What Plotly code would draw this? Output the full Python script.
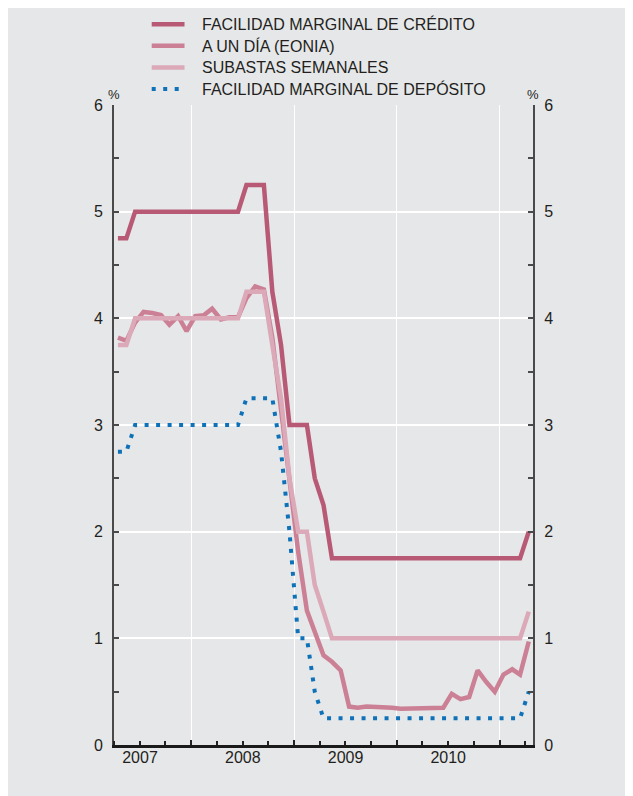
import pandas as pd
import plotly.graph_objects as go

# Monthly data, April 2007 - April 2011 (mid-month points)
months = pd.date_range("2007-04-01", "2011-04-01", freq="MS") + pd.Timedelta(days=14)

credito = [4.75, 4.75, 5.0, 5.0, 5.0, 5.0, 5.0, 5.0, 5.0,
           5.0, 5.0, 5.0, 5.0, 5.0, 5.0, 5.25, 5.25, 5.25, 4.25, 3.75, 3.0,
           3.0, 3.0, 2.5, 2.25, 1.75, 1.75, 1.75, 1.75, 1.75, 1.75, 1.75, 1.75,
           1.75, 1.75, 1.75, 1.75, 1.75, 1.75, 1.75, 1.75, 1.75, 1.75, 1.75, 1.75,
           1.75, 1.75, 1.75, 2.0]

eonia = [3.82, 3.79, 3.96, 4.06, 4.05, 4.03, 3.94, 4.02, 3.88,
         4.02, 4.03, 4.09, 3.99, 4.01, 4.01, 4.19, 4.30, 4.27, 3.82, 3.15, 2.49,
         1.81, 1.26, 1.06, 0.84, 0.78, 0.70, 0.36, 0.35, 0.36, 0.36, 0.36, 0.35,
         0.34, 0.34, 0.35, 0.35, 0.34, 0.35, 0.48, 0.43, 0.45, 0.70, 0.59, 0.50,
         0.66, 0.71, 0.66, 0.97]

subastas = [3.75, 3.75, 4.0, 4.0, 4.0, 4.0, 4.0, 4.0, 4.0,
            4.0, 4.0, 4.0, 4.0, 4.0, 4.0, 4.25, 4.25, 4.25, 3.75, 3.25, 2.5,
            2.0, 2.0, 1.5, 1.25, 1.0, 1.0, 1.0, 1.0, 1.0, 1.0, 1.0, 1.0,
            1.0, 1.0, 1.0, 1.0, 1.0, 1.0, 1.0, 1.0, 1.0, 1.0, 1.0, 1.0,
            1.0, 1.0, 1.0, 1.25]

deposito = [2.75, 2.75, 3.0, 3.0, 3.0, 3.0, 3.0, 3.0, 3.0,
            3.0, 3.0, 3.0, 3.0, 3.0, 3.0, 3.25, 3.25, 3.25, 3.25, 2.75, 2.0,
            1.0, 1.0, 0.5, 0.25, 0.25, 0.25, 0.25, 0.25, 0.25, 0.25, 0.25, 0.25,
            0.25, 0.25, 0.25, 0.25, 0.25, 0.25, 0.25, 0.25, 0.25, 0.25, 0.25, 0.25,
            0.25, 0.25, 0.25, 0.5]

names = ["FACILIDAD MARGINAL DE CRÉDITO", "A UN DÍA (EONIA)",
         "SUBASTAS SEMANALES", "FACILIDAD MARGINAL DE DEPÓSITO"]
series = [credito, eonia, subastas, deposito]
colors = ["#b85a75", "#cc8096", "#dba9b7", "#0f72b8"]
widths = [4.5, 4.5, 4.5, 4]
dashes = ["solid", "solid", "solid", "4px,7.5px"]

BG = "#e6e7e9"
FONT = "Liberation Sans, Arial, sans-serif"
TXT = "#231f20"

fig = go.Figure()
for i in range(4):
    # deposit line on the right-hand axis (same scale) so it is drawn on top
    fig.add_trace(go.Scatter(x=months, y=series[i], name=names[i], mode="lines",
                             yaxis="y2" if i == 3 else "y",
                             line=dict(color=colors[i], width=widths[i], dash=dashes[i])))

# hand-made legend so that the row spacing matches
shapes = []
annotations = []
for i in range(4):
    yy = 1.1261 - i * 0.0337
    shapes.append(dict(type="line", xref="paper", yref="paper", x0=0.09, x1=0.1683,
                       y0=yy, y1=yy, line=dict(color=colors[i], width=widths[i], dash=dashes[i])))
    annotations.append(dict(text=names[i], xref="paper", yref="paper", x=0.2045, y=yy,
                            xanchor="left", yanchor="middle", showarrow=False,
                            font=dict(size=16, color=TXT)))

annotations += [
    dict(text="%", xref="paper", yref="paper", x=0, y=1, xanchor="center", yanchor="bottom",
         showarrow=False, yshift=1, font=dict(size=13, color=TXT)),
    dict(text="%", xref="paper", yref="paper", x=1, y=1, xanchor="center", yanchor="bottom",
         showarrow=False, yshift=1, font=dict(size=13, color=TXT)),
]

yax = dict(range=[0, 6], dtick=1, showline=True, linecolor="#4a4a4a", linewidth=2,
           ticks="inside", ticklen=5, tickcolor="#4a4a4a", tickwidth=1.5,
           minor=dict(dtick=0.5, ticks="inside", ticklen=5, tickcolor="#4a4a4a", showgrid=False),
           tickfont=dict(size=16, color=TXT), ticklabelstandoff=6, zeroline=False,
           fixedrange=True)

fig.update_layout(
    width=633, height=796,
    margin=dict(l=106, r=108, t=97, b=59),
    paper_bgcolor=BG, plot_bgcolor=BG,
    font=dict(family=FONT, color=TXT, size=16),
    showlegend=False,
    xaxis=dict(type="date", range=["2007-04-01", "2011-04-30"],
               tick0="2007-01-01", dtick="M12", tickformat="%Y", ticklabelmode="period",
               showgrid=True, gridcolor="white", gridwidth=1,
               ticks="inside", ticklen=5, tickcolor="#222", tickwidth=1.5,
               minor=dict(dtick="M3", ticks="inside", ticklen=4, tickcolor="#222", showgrid=False),
               showline=True, linecolor="#1a1a1a", linewidth=2.5,
               tickfont=dict(size=16, color=TXT), ticklabelstandoff=-4, zeroline=False),
    yaxis=dict(**yax, showgrid=True, gridcolor="white", gridwidth=2, side="left"),
    yaxis2=dict(**yax, showgrid=False, overlaying="y", side="right", anchor="x"),
    annotations=annotations,
    shapes=shapes,
)

fig.write_html("out.html")
